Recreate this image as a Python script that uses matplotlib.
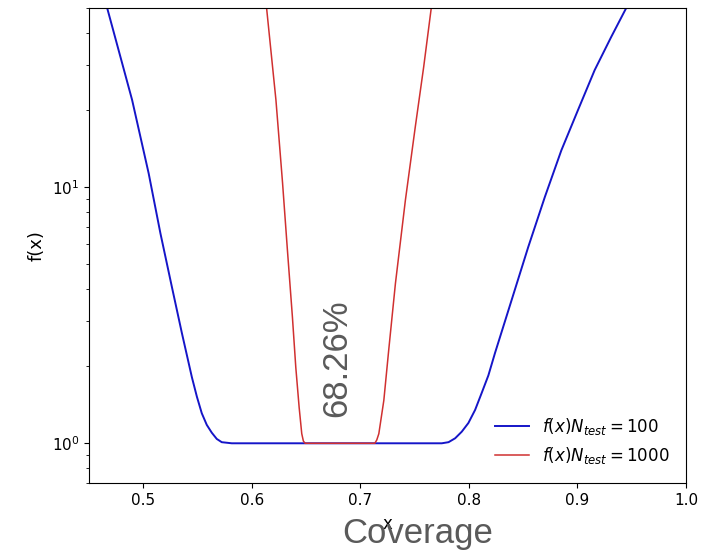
import matplotlib
matplotlib.use("Agg")
import matplotlib.pyplot as plt

# valeurs (courbe N_test = 100)
x_100 = [0.4668, 0.4897, 0.505, 0.5158, 0.5264, 0.5356, 0.5448, 0.5494, 0.5539, 0.5585, 0.5631,
         0.5677, 0.5723, 0.5815,
         0.7750, 0.7812, 0.7873, 0.7934, 0.7995, 0.8057, 0.8117, 0.8179, 0.8240, 0.8393, 0.8546,
         0.8699, 0.8851, 0.9005, 0.9158, 0.9310, 0.9448]
f_100 = [49.9, 21.9, 11.3, 6.6, 4.07, 2.69, 1.81, 1.52, 1.31, 1.18, 1.10,
         1.04, 1.01, 1.0,
         1.0, 1.01, 1.046, 1.11, 1.20, 1.35, 1.57, 1.84, 2.25, 3.62, 5.83,
         9.14, 13.9, 20.0, 28.6, 38.5, 49.9]

# courbe N_test = 1000
x_1000 = [0.6136, 0.6222, 0.6283, 0.6328, 0.6374, 0.6405, 0.6436, 0.6460, 0.6475, 0.6491,
          0.7133, 0.7151, 0.7170, 0.7216, 0.7261, 0.7323, 0.7415, 0.7506, 0.7583, 0.7653]
f_1000 = [50.0, 21.9, 10.4, 5.67, 3.11, 1.98, 1.38, 1.09, 1.02, 1.0,
          1.0, 1.03, 1.09, 1.47, 2.31, 4.21, 8.91, 17.2, 29.4, 50.0]

labels = [r"$f(x) N_{test} = 100$", r"$f(x) N_{test} = 1000$"]

fig = plt.figure(figsize=(7.13, 5.54), dpi=100)
ax = fig.add_axes([0.1248, 0.1282, 0.8374, 0.8574])

ax.plot(x_100, f_100, color="#1515c8", lw=1.4, label=labels[0])
ax.plot(x_1000, f_1000, color="#d03030", lw=1.1, label=labels[1])
ax.set_yscale("log")
ax.set_xlim(0.45, 1.0)
ax.set_ylim(0.7, 50)
ax.set_xlabel("x", fontsize=12, labelpad=5)
ax.set_ylabel("f(x)", fontsize=13, labelpad=4)
ax.tick_params(labelsize=11)
ax.legend(loc="lower right", frameon=False, fontsize=12, borderaxespad=0.6)

ax.text(0.678, 2.15, "68.26%", rotation=90, ha="center", va="center",
        fontsize=25, color="#5a5a5a", family="Liberation Sans")
fig.text(418 / 713, 1 - 533 / 554, "Coverage", ha="center", va="center",
         fontsize=25, color="#5a5a5a", family="Liberation Sans")

fig.savefig("out.png", dpi=100)
